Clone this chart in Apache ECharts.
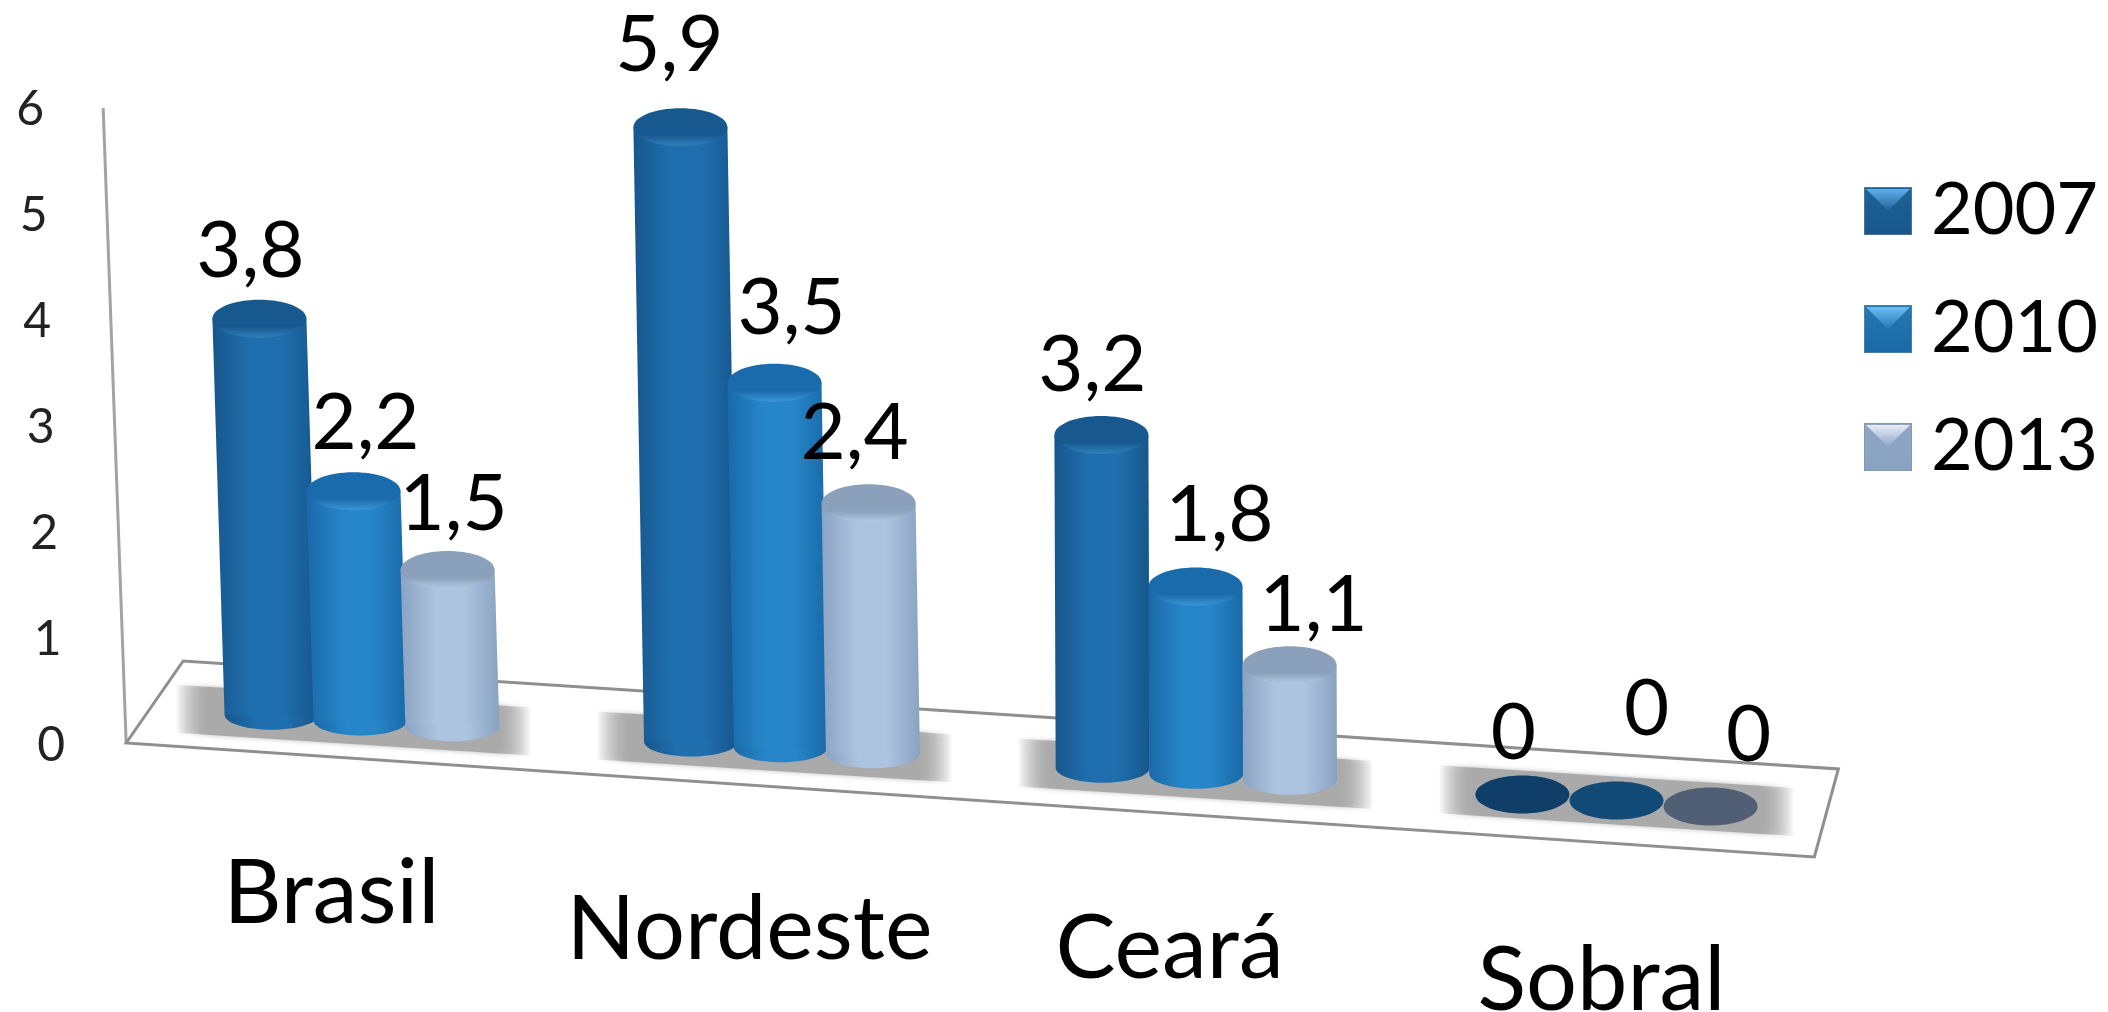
<!DOCTYPE html>
<html>
<head>
<meta charset="utf-8">
<style>
  html, body { margin: 0; padding: 0; background: #fff; }
  #chart { width: 2108px; height: 1012px; }
</style>
<script src="https://cdn.jsdelivr.net/npm/echarts@6/dist/echarts.min.js"></script>
</head>
<body>
<div id="chart"></div>
<script>
// dados
const categories = ["Brasil", "Nordeste", "Ceará", "Sobral"];
const years = ["2007", "2010", "2013"];
const values2007 = [3.8, 5.9, 3.2, 0];
const values2010 = [2.2, 3.5, 1.8, 0];
const values2013 = [1.5, 2.4, 1.1, 0];
const yTicks = [0, 1, 2, 3, 4, 5, 6];

const seriesValues = [values2007, values2010, values2013];

// aparencia de cada ano: borda, meio, topo claro/escuro, disco quando vale 0
const looks = [
  { edge: "#17568c", mid: "#1f6fae", capDark: "#17598f", capLight: "#2f80bd", flat: "#0f3f68", bevel: "#62aeea", legend: "#1f6398" },
  { edge: "#1a69a8", mid: "#2686c8", capDark: "#1a6bab", capLight: "#3a95d6", flat: "#114a76", bevel: "#6cc0f5", legend: "#2478b0" },
  { edge: "#8aa3c2", mid: "#adc4e0", capDark: "#8ba1bb", capLight: "#b4c9e2", flat: "#515f74", bevel: "#e8eefa", legend: "#8ea5c4" }
];
// deslocamento dos rotulos, colocados a mao no original
const labelNudgeX = [[-9, -11, -9, -9], [12, 17, 24, 30], [6, -14, 24, 38]];
const labelNudgeY = [[-3, -17, -5, 3], [-3, -10, -7, -27], [-1, -5, 4, -7]];

const FONT = "Lato";
const BASE_SHIFT = -26;   // pe das colunas em relacao ao eixo
const SLOPE = 0.0638;     // inclinacao do piso
const RX = 47;
const RY = 19;
const RY_FOOT = 15;

function baseOffset(x) {
  return BASE_SHIFT + SLOPE * (x - 353);
}

function legendIcon(look) {
  const svg = '<svg xmlns="http://www.w3.org/2000/svg" width="48" height="48">' +
    '<defs><linearGradient id="g" x1="0" y1="0" x2="0" y2="1">' +
    '<stop offset="0" stop-color="' + look.legend + '"/><stop offset="1" stop-color="' + look.edge + '"/></linearGradient>' +
    '<linearGradient id="b" x1="0" y1="0" x2="0" y2="1">' +
    '<stop offset="0" stop-color="' + look.bevel + '"/><stop offset="1" stop-color="' + look.legend + '"/></linearGradient></defs>' +
    '<rect width="48" height="48" fill="url(#g)" stroke="#7f8c99" stroke-width="1"/>' +
    '<polygon points="2,2 46,2 24,24" fill="url(#b)"/></svg>';
  return "image://data:image/svg+xml;charset=utf-8," + encodeURIComponent(svg);
}

function renderFloor(params, api) {
  const zero = api.coord([0, 0]);
  const band = api.size([1, 0])[0];
  const top = api.coord([0, 6]);
  const lineStyle = { fill: "none", stroke: "#a3a3a3", lineWidth: 3 };
  const fx = zero[0] - band * 0.54;
  const fy = zero[1] - 3;
  const rx = zero[0] + band * 3.47;
  return {
    type: "group",
    children: [
      { type: "line", shape: { x1: fx, y1: fy, x2: fx - 23, y2: top[1] - 2 }, style: lineStyle },
      {
        type: "polygon",
        shape: { points: [[fx, fy], [fx + 57, fy - 82], [rx + 24, fy + 26], [rx, fy + 114]] },
        style: { fill: "#fff", stroke: "#8f8f8f", lineWidth: 3 }
      }
    ]
  };
}

function renderShadow(params, api) {
  const c = api.coord([api.value(0), 0]);
  const x = c[0];
  const y = c[1] + baseOffset(x);
  const w = 178;
  const h = 24;
  const dy = SLOPE * w;
  return {
    type: "polygon",
    shape: { points: [[x - w, y - h - dy], [x + w, y - h + dy], [x + w, y + h + dy], [x - w, y + h - dy]] },
    style: {
      shadowBlur: 5,
      shadowColor: "rgba(170,170,170,0.8)",
      fill: {
        type: "linear", x: 0, y: 0, x2: 1, y2: 0,
        colorStops: [
          { offset: 0, color: "rgba(150,150,150,0)" },
          { offset: 0.1, color: "rgba(170,170,170,1)" },
          { offset: 0.9, color: "rgba(170,170,170,1)" },
          { offset: 1, color: "rgba(150,150,150,0)" }
        ]
      }
    }
  };
}

function makeRenderBar(s) {
  return function (params, api) {
    const look = looks[s];
    const cat = api.value(0);
    const val = api.value(1);
    const zero = api.coord([cat, 0]);
    const band = api.size([1, 0])[0];
    const topX = zero[0] + (s - 1) * band * 0.2235;
    const lean = Math.max(0, 3.2 - 1.4 * cat) * val;
    const botX = topX + lean;
    const botY = zero[1] + baseOffset(botX);
    const topY = api.coord([cat, val])[1] + baseOffset(topX);
    const label = {
      type: "text",
      z2: 20,
      style: {
        text: String(val).replace(".", ","),
        x: topX + labelNudgeX[s][cat],
        y: topY - 64 + labelNudgeY[s][cat],
        fill: "#000",
        fontFamily: FONT,
        fontSize: 78,
        align: "center",
        verticalAlign: "middle"
      }
    };
    if (val === 0) {
      return {
        type: "group",
        children: [
          { type: "ellipse", shape: { cx: botX, cy: botY, rx: RX, ry: RY }, style: { fill: look.flat } },
          label
        ]
      };
    }
    const bodyFill = {
      type: "linear", x: 0, y: 0, x2: 1, y2: 0,
      colorStops: [
        { offset: 0, color: look.edge },
        { offset: 0.35, color: look.mid },
        { offset: 0.65, color: look.mid },
        { offset: 1, color: look.edge }
      ]
    };
    return {
      type: "group",
      children: [
        { type: "ellipse", shape: { cx: botX, cy: botY, rx: RX, ry: RY_FOOT }, style: { fill: bodyFill } },
        {
          type: "polygon",
          shape: { points: [[topX - RX, topY], [topX + RX, topY], [botX + RX, botY], [botX - RX, botY]] },
          style: { fill: bodyFill }
        },
        {
          type: "ellipse",
          shape: { cx: topX, cy: topY, rx: RX, ry: RY },
          style: {
            fill: {
              type: "linear", x: 0, y: 0, x2: 0, y2: 1,
              colorStops: [
                { offset: 0, color: look.capDark },
                { offset: 0.7, color: look.capDark },
                { offset: 1, color: look.capLight }
              ]
            }
          }
        },
        label
      ]
    };
  };
}

const yRich = {};
yTicks.forEach((t) => {
  yRich["t" + t] = { padding: [0, t * 3.5, 0, 0], fontFamily: FONT, fontSize: 48, color: "#222" };
});
const xPadTop = [15, 51, 70, 102];
const xPadRight = [44, 50, 52, 30];
const xRich = {};
categories.forEach((c, i) => {
  xRich["c" + i] = { padding: [xPadTop[i], xPadRight[i], 0, 0], fontFamily: FONT, fontSize: 90, color: "#000" };
});

const barSeries = years.map((year, s) => ({
  name: year,
  type: "custom",
  xAxisIndex: 0,
  yAxisIndex: 1,
  renderItem: makeRenderBar(s),
  encode: { x: 0, y: 1 },
  data: seriesValues[s].map((v, i) => [i, v]),
  itemStyle: { color: looks[s].legend },
  silent: true
}));

const chartInstance = echarts.init(document.getElementById("chart"));
chartInstance.setOption({
  animation: false,
  backgroundColor: "#fff",
  grid: { left: 143, right: 281, top: 110, bottom: 266, outerBoundsMode: "none" },
  legend: {
    orient: "vertical",
    left: 1859,
    top: 170,
    itemWidth: 48,
    itemHeight: 48,
    itemGap: 46,
    selectedMode: false,
    textStyle: { fontFamily: FONT, fontSize: 72, color: "#000", padding: [0, 0, 0, 14] },
    data: years.map((y, s) => ({ name: y, icon: legendIcon(looks[s]) }))
  },
  xAxis: {
    type: "category",
    data: categories,
    axisLine: { show: false },
    axisTick: { show: false },
    axisLabel: {
      interval: 0,
      margin: 88,
      formatter: (v, i) => "{c" + i + "|" + v + "}",
      rich: xRich
    }
  },
  yAxis: [
    {
      type: "value",
      min: 0,
      max: 6,
      interval: 1,
      splitLine: { show: false },
      axisLine: { show: false },
      axisTick: { show: false },
      axisLabel: {
        margin: 78,
        formatter: (v) => "{t" + v + "|" + v + "}",
        rich: yRich
      }
    },
    // escala das colunas, um pouco menor que a da parede
    { type: "value", min: 0, max: 6.115, show: false }
  ],
  series: [
    { name: "piso", type: "custom", yAxisIndex: 0, renderItem: renderFloor, data: [[0, 0]], encode: { x: 0, y: 1 }, silent: true },
    { name: "sombra", type: "custom", yAxisIndex: 0, renderItem: renderShadow, data: categories.map((c, i) => [i, 0]), encode: { x: 0, y: 1 }, silent: true }
  ].concat(barSeries)
});
</script>
</body>
</html>
